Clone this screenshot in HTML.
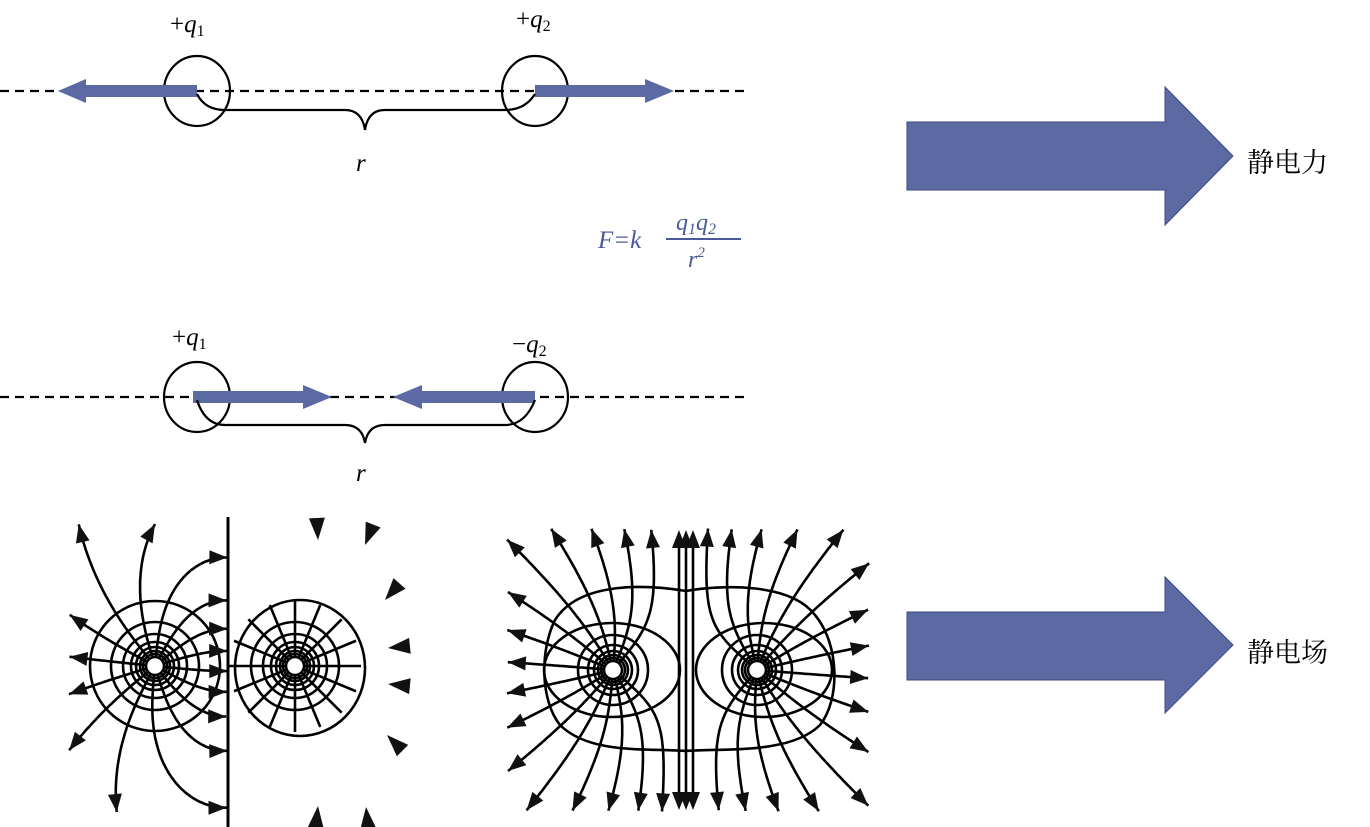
<!DOCTYPE html>
<html><head><meta charset="utf-8"><style>
html,body{margin:0;padding:0;background:#fff;}
svg{display:block}
text{font-family:"Liberation Serif","Noto Serif CJK SC",serif;}
</style></head><body>
<svg id="s" width="1370" height="827" viewBox="0 0 1370 827" xmlns="http://www.w3.org/2000/svg">
<line x1="0" y1="91" x2="750" y2="91" stroke="#000" stroke-width="2.2" stroke-dasharray="9,6"/>
<ellipse cx="197" cy="91" rx="33" ry="35" fill="none" stroke="#000" stroke-width="2.2"/>
<ellipse cx="535" cy="91" rx="33" ry="35" fill="none" stroke="#000" stroke-width="2.2"/>
<rect x="84" y="85" width="113" height="12" fill="#5b6aa3"/>
<polygon points="58,91 86,79 86,103" fill="#5b6aa3"/>
<rect x="535" y="85" width="112" height="12" fill="#5b6aa3"/>
<polygon points="674,91 645,79 645,103" fill="#5b6aa3"/>
<path d="M197,94 Q205,110 225,110 L345,110 Q362,110 365,130 Q368,110 385,110 L505,110 Q525,110 535,94" fill="none" stroke="#000" stroke-width="2.2"/>
<text x="170" y="32" font-size="25">+<tspan font-style="italic">q</tspan><tspan font-size="16" dy="4">1</tspan></text>
<text x="516" y="27" font-size="25">+<tspan font-style="italic">q</tspan><tspan font-size="16" dy="4">2</tspan></text>
<text x="356" y="171" font-size="25" font-style="italic">r</text>
<g fill="#4a5a98" font-style="italic">
<text x="598" y="248" font-size="25">F=k</text>
<text x="676" y="230" font-size="24">q<tspan font-size="16" dy="4">1</tspan><tspan dy="-4">q</tspan><tspan font-size="16" dy="4">2</tspan></text>
<text x="688" y="267" font-size="24">r<tspan font-size="15" dy="-10">2</tspan></text>
</g>
<line x1="666" y1="239" x2="741" y2="239" stroke="#4a5a98" stroke-width="2"/>
<line x1="0" y1="397" x2="750" y2="397" stroke="#000" stroke-width="2.2" stroke-dasharray="9,6"/>
<ellipse cx="197" cy="397" rx="33" ry="35" fill="none" stroke="#000" stroke-width="2.2"/>
<ellipse cx="535" cy="397" rx="33" ry="35" fill="none" stroke="#000" stroke-width="2.2"/>
<rect x="193" y="391" width="112" height="12" fill="#5b6aa3"/>
<polygon points="332,397 303,385 303,409" fill="#5b6aa3"/>
<rect x="420" y="391" width="115" height="12" fill="#5b6aa3"/>
<polygon points="393,397 422,385 422,409" fill="#5b6aa3"/>
<path d="M197,400 Q205,425 225,425 L345,425 Q362,425 365,443 Q368,425 385,425 L505,425 Q525,425 535,400" fill="none" stroke="#000" stroke-width="2.2"/>
<text x="172" y="345" font-size="25">+<tspan font-style="italic">q</tspan><tspan font-size="16" dy="4">1</tspan></text>
<text x="512" y="352" font-size="25">−<tspan font-style="italic">q</tspan><tspan font-size="16" dy="4">2</tspan></text>
<text x="356" y="481" font-size="25" font-style="italic">r</text>
<polygon points="907,122 1165,122 1165,87 1233,156 1165,225 1165,190 907,190" fill="#5b6aa3" stroke="#3d4a80" stroke-width="1"/>
<polygon points="907,612 1165,612 1165,577 1233,645 1165,713 1165,680 907,680" fill="#5b6aa3" stroke="#3d4a80" stroke-width="1"/>
<text x="1247" y="172" font-size="27" font-family="'Noto Sans CJK SC',sans-serif">静电力</text>
<text x="1247" y="662" font-size="27" font-family="'Noto Sans CJK SC',sans-serif">静电场</text>
<g id="f" fill="none" stroke="#000" stroke-width="2.6"></g>
<g id="h" fill="#111"></g>
</svg>
<script>
var NS="http://www.w3.org/2000/svg",f=document.getElementById('f'),h=document.getElementById('h');
function el(p,t,a){var e=document.createElementNS(NS,t);for(var k in a)e.setAttribute(k,a[k]);p.appendChild(e);return e;}
function arrow(x,y,dx,dy,L,W){L=L||18;W=W||7;var n=Math.hypot(dx,dy);dx/=n;dy/=n;
 var bx=x-dx*L,by=y-dy*L;el(h,'polygon',{points:x+','+y+' '+(bx-dy*W)+','+(by+dx*W)+' '+(bx+dy*W)+','+(by-dx*W)});}
function E(x,y,cs){var ex=0,ey=0;cs.forEach(function(c){var dx=x-c[0],dy=y-c[1],r=Math.hypot(dx,dy);ex+=c[2]*dx/(r*r*r);ey+=c[2]*dy/(r*r*r);});return[ex,ey];}
function trace(x,y,cs,stop,maxlen){var d='M'+x.toFixed(1)+','+y.toFixed(1),len=0,lx=0,ly=0;
 for(var i=0;i<3000;i++){var e=E(x,y,cs),n=Math.hypot(e[0],e[1]);lx=e[0]/n;ly=e[1]/n;x+=lx*1.5;y+=ly*1.5;len+=1.5;
  d+=' L'+x.toFixed(1)+','+y.toFixed(1);if(stop(x,y)||len>maxlen)break;}
 el(f,'path',{d:d});return[x,y,lx,ly];}
var A=[155,666],B=[295,666],cl=[[155,666,1],[295,666,-1]];
[9,12,15,19,24,32,44,65].forEach(function(r){el(f,'circle',{cx:A[0],cy:A[1],r:r});});
[9,12,15,19,24,32,44].forEach(function(r){el(f,'circle',{cx:B[0],cy:B[1],r:r});});
el(f,'ellipse',{cx:300,cy:668,rx:65,ry:68});
el(f,'line',{x1:228,y1:517,x2:228,y2:827,'stroke-width':3});
for(var k=0;k<16;k++){var a=k*Math.PI*2/16+0.1;
 var p=trace(A[0]+8*Math.cos(a),A[1]+8*Math.sin(a),cl,function(x,y){return x>=226||x<70||x>370||y<525||y>812;},400);
 arrow(p[0],p[1],p[2],p[3]);}
for(var k=0;k<16;k++){var a=k*Math.PI*2/16;
 el(f,'line',{x1:B[0]+8*Math.cos(a),y1:B[1]+8*Math.sin(a),x2:B[0]+66*Math.cos(a),y2:B[1]+66*Math.sin(a)});}
[[318,540,0.05,1],[365,545,-0.4,1],[385,600,-0.7,0.8],[388,648,-1,0.1],[388,684,-1,-0.1],[387,735,-0.7,-0.7],[318,806,0.1,-1],[366,807,-0.1,-1]].forEach(function(q){arrow(q[0],q[1],q[2],q[3],22,8);});
var C=[613,670],D=[757,670],cr=[[613,670,1],[757,670,1]];
[9,12,15,19,25,35].forEach(function(r){el(f,'circle',{cx:C[0],cy:C[1],r:r});el(f,'circle',{cx:D[0],cy:D[1],r:r});});
el(f,'ellipse',{cx:612,cy:670,rx:68,ry:47});el(f,'ellipse',{cx:764,cy:670,rx:68,ry:47});
el(f,'path',{d:'M686,591 C650,585 580,580 555,620 C540,650 540,700 560,725 C590,755 650,748 686,751 C720,748 790,755 820,725 C840,700 840,645 815,615 C790,582 720,585 686,591 Z'});
function stopR(x,y){return x<508||x>868||y<530||y>810;}
for(var k=0;k<20;k++){var a=k*Math.PI*2/20+0.08;
 [C,D].forEach(function(c,ci){var ca=Math.cos(a);if((ci==0&&ca>0.85)||(ci==1&&ca<-0.85))return;
  var p=trace(c[0]+8*Math.cos(a),c[1]+8*Math.sin(a),cr,stopR,500);arrow(p[0],p[1],p[2],p[3]);});}
[679,686,693].forEach(function(x){el(f,'line',{x1:x,y1:535,x2:x,y2:805});arrow(x,530,0,-1);arrow(x,810,0,1);});
</script>
</body></html>
